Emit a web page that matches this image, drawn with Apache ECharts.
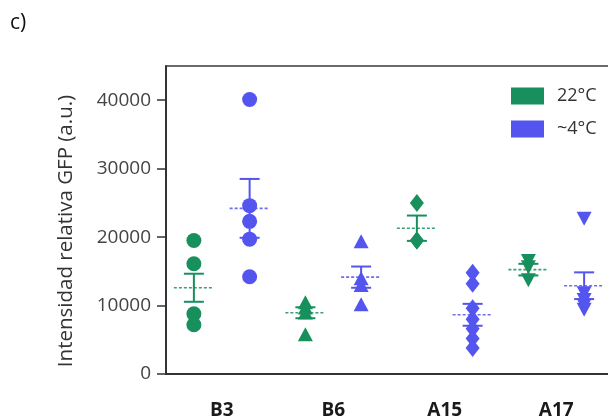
<!DOCTYPE html>
<html>
<head>
<meta charset="utf-8">
<script src="https://cdn.jsdelivr.net/npm/echarts@6/dist/echarts.min.js"></script>
<style>
  html, body { margin: 0; padding: 0; background: #fff; }
  #chart { width: 608px; height: 416px; }
</style>
</head>
<body>
<div id="chart"></div>
<script>
// ---- data ----
const categories = ['B3', 'B6', 'A15', 'A17'];
const seriesNames = ['22°C', '~4°C'];
const yTicks = [0, 10000, 20000, 30000, 40000];

// individual measurements, 22°C
const warmB3 = [19500, 16100, 8800, 7200];
const warmB6 = [10500, 9700, 9000, 5800];
const warmA15 = [25000, 19500, 19500];
const warmA17 = [16500, 15600, 13700];
// individual measurements, ~4°C
const coldB3 = [40100, 24600, 22300, 19700, 14200];
const coldB6 = [19400, 14000, 13000, 10200];
const coldA15 = [14800, 13200, 9600, 8000, 6600, 5200, 3800];
const coldA17 = [22700, 11800, 10800, 10000, 9400];

const warmMean = [12600, 8950, 21300, 15250];
const warmSem = [2050, 800, 1850, 850];
const coldMean = [24200, 14150, 8650, 12900];
const coldSem = [4300, 1550, 1600, 1950];

const markerShapes = ['circle', 'triangle', 'diamond', 'triangle'];
const markerRotate = [0, 0, 0, 180];
const markerSizes = [[15, 15], [15, 14], [14, 18], [15, 14]];

// ---- build ----
const GREEN = '#17905e';
const BLUE = '#5454ef';
const warmGroups = [warmB3, warmB6, warmA15, warmA17];
const coldGroups = [coldB3, coldB6, coldA15, coldA17];

function pointData(groups, offset) {
  const out = [];
  groups.forEach((vals, k) => {
    vals.forEach(v => {
      out.push({
        value: [k + offset, v],
        symbol: markerShapes[k],
        symbolRotate: markerRotate[k],
        symbolSize: markerSizes[k]
      });
    });
  });
  return out;
}
function statData(means, sems, offset) {
  return means.map((m, k) => [k + offset, m, sems[k]]);
}

function errRender(params, api) {
  const x = api.value(0), m = api.value(1), s = api.value(2);
  const top = api.coord([x, m + s]);
  const bot = api.coord([x, m - s]);
  const mid = api.coord([x, m]);
  const c = api.visual('color');
  const cap = 10, half = 20;
  return {
    type: 'group',
    children: [
      { type: 'line', shape: { x1: top[0], y1: top[1], x2: bot[0], y2: bot[1] }, style: { stroke: c, lineWidth: 2 } },
      { type: 'line', shape: { x1: top[0] - cap, y1: top[1], x2: top[0] + cap, y2: top[1] }, style: { stroke: c, lineWidth: 2 } },
      { type: 'line', shape: { x1: bot[0] - cap, y1: bot[1], x2: bot[0] + cap, y2: bot[1] }, style: { stroke: c, lineWidth: 2 } },
      { type: 'line', shape: { x1: mid[0] - half, y1: mid[1], x2: mid[0] + half, y2: mid[1] }, style: { stroke: c, lineWidth: 1.6, lineDash: [3, 2], opacity: 0.85 } }
    ]
  };
}

const chart = echarts.init(document.getElementById('chart'), null, { renderer: 'canvas' });
const FONT = '"Open Sans", "Noto Sans", sans-serif';

chart.setOption({
  animation: false,
  backgroundColor: '#fff',
  textStyle: { fontFamily: FONT },
  grid: {
    left: 166, top: 66, width: 446, height: 308, show: false,
    containLabel: false, outerBoundsMode: 'none'
  },
  legend: {
    orient: 'vertical', left: 506, top: 82,
    itemWidth: 33, itemHeight: 17, itemGap: 15,
    icon: 'rect', selectedMode: false,
    data: seriesNames,
    textStyle: { fontSize: 18, color: '#333', fontFamily: FONT, padding: [0, 0, 0, 8] }
  },
  xAxis: [
    {
      type: 'category', data: categories, boundaryGap: true,
      axisLine: { lineStyle: { color: '#333', width: 2 } },
      axisTick: { alignWithLabel: true, length: 9, lineStyle: { color: '#333', width: 1.5 } },
      axisLabel: { fontSize: 19, fontWeight: 'bold', color: '#1a1a1a', margin: 27, fontFamily: FONT },
      splitLine: { show: false }
    },
    {
      type: 'value', min: 0, max: 4, position: 'top',
      axisLine: { show: true, onZero: false, lineStyle: { color: '#3a3a3a', width: 1.5 } },
      axisTick: { show: false }, axisLabel: { show: false }, splitLine: { show: false }
    }
  ],
  yAxis: {
    type: 'value', min: 0, max: 45000,
    axisLine: { show: true, lineStyle: { color: '#333', width: 2 } },
    axisTick: { show: true, length: 9, customValues: yTicks, lineStyle: { color: '#333', width: 1.5 } },
    axisLabel: { fontSize: 19, color: '#444', margin: 15, customValues: yTicks, fontFamily: FONT,
                 formatter: v => String(v) },
    splitLine: { show: false }
  },
  graphic: [
    { type: 'text', left: 10, top: 13, style: { text: 'c)', fontSize: 21, fill: '#111', fontFamily: FONT } },
    { type: 'text', x: 66, y: 231, rotation: Math.PI / 2,
      style: { text: 'Intensidad relativa GFP (a.u.)', fontSize: 20.5, fill: '#333', fontFamily: FONT,
               textAlign: 'center', textVerticalAlign: 'middle' } }
  ],
  series: [
    { name: seriesNames[0], type: 'custom', xAxisIndex: 1, z: 1, itemStyle: { color: GREEN },
      renderItem: errRender, data: statData(warmMean, warmSem, 0.25) },
    { name: seriesNames[1], type: 'custom', xAxisIndex: 1, z: 1, itemStyle: { color: BLUE },
      renderItem: errRender, data: statData(coldMean, coldSem, 0.75) },
    { name: seriesNames[0], type: 'scatter', xAxisIndex: 1, z: 3, itemStyle: { color: GREEN, opacity: 1 },
      data: pointData(warmGroups, 0.25) },
    { name: seriesNames[1], type: 'scatter', xAxisIndex: 1, z: 3, itemStyle: { color: BLUE, opacity: 1 },
      data: pointData(coldGroups, 0.75) }
  ]
});
</script>
</body>
</html>
